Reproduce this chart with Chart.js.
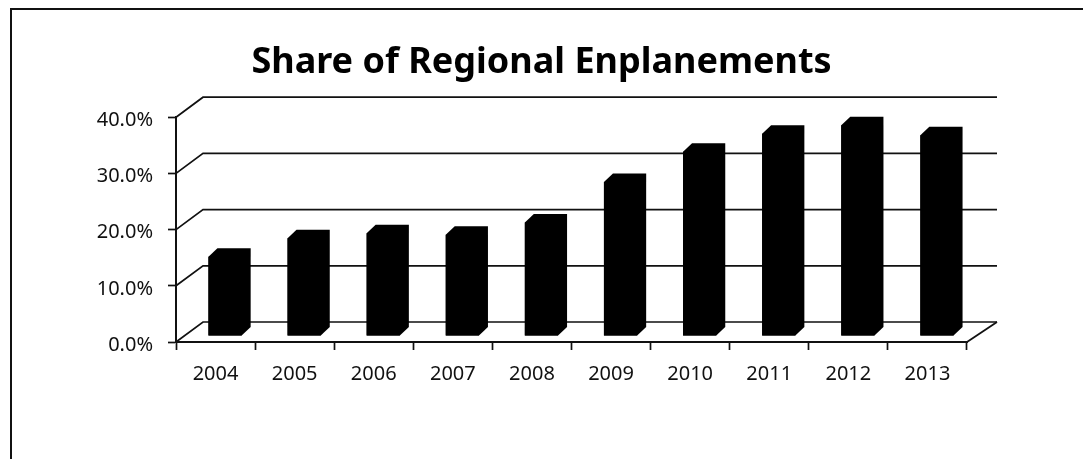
<!DOCTYPE html>
<html>
<head>
<meta charset="utf-8">
<script src="https://cdn.jsdelivr.net/npm/chart.js@4"></script>
<style>
    body { margin: 0; background: #fff; overflow: hidden; }
    #wrap { position: relative; width: 1083px; height: 459px; }
    #frame { position: absolute; left: 10px; top: 8px; right: -10px; bottom: -10px;
        border-top: 2px solid #111; border-left: 2px solid #111; pointer-events: none; }
</style>
</head>
<body>
<div id="wrap">
    <canvas id="myChart"></canvas>
    <div id="frame"></div>
</div>
<script>
const years = ['2004', '2005', '2006', '2007', '2008', '2009', '2010', '2011', '2012', '2013']
const share = [14.1, 17.4, 18.3, 18.0, 20.2, 27.4, 32.8, 36.0, 37.5, 35.7]
const yTicks = [0, 10, 20, 30, 40]

const titleText = 'Share of Regional Enplanements'
const fontName = "'Noto Sans', sans-serif"
const lineColor = '#111'

// fake 3d: back wall offset and bar offset / depth (pixels)
const wallDx = 27
const wallDxRight = 30
const wallDy = -20
const barShiftX = 9.5
const barShiftY = -6
const barDepthX = 9
const barDepthY = -8.5

const fake3d = {
    id: 'fake3d',
    beforeDatasetsDraw(chart) {
        const ctx = chart.ctx
        const y = chart.scales.y
        const left = chart.chartArea.left
        const right = chart.chartArea.right
        ctx.save()
        ctx.strokeStyle = lineColor
        ctx.lineWidth = 1.7
        // gridlines on the side + back wall
        yTicks.forEach(v => {
            let py = y.getPixelForValue(v)
            ctx.beginPath()
            ctx.moveTo(left, py)
            ctx.lineTo(left + wallDx, py + wallDy)
            ctx.lineTo(right + wallDxRight, py + wallDy)
            ctx.stroke()
        })
        // floor right edge
        let p0 = y.getPixelForValue(0)
        ctx.beginPath()
        ctx.moveTo(right, p0)
        ctx.lineTo(right + wallDxRight, p0 + wallDy)
        ctx.stroke()
        ctx.restore()

        // bars sit a bit behind the front axis
        ctx.save()
        ctx.translate(barShiftX, barShiftY)
    },
    afterDatasetsDraw(chart) {
        const ctx = chart.ctx
        const meta = chart.getDatasetMeta(0)
        ctx.fillStyle = '#000'
        meta.data.forEach(el => {
            const p = el.getProps(['x', 'y', 'base', 'width'], true)
            let x1 = p.x - p.width / 2
            let x2 = p.x + p.width / 2
            // whole silhouette so no seams show
            ctx.beginPath()
            ctx.moveTo(x1, p.base)
            ctx.lineTo(x1, p.y)
            ctx.lineTo(x1 + barDepthX, p.y + barDepthY)
            ctx.lineTo(x2 + barDepthX, p.y + barDepthY)
            ctx.lineTo(x2 + barDepthX, p.base + barDepthY)
            ctx.lineTo(x2, p.base)
            ctx.closePath()
            ctx.fill()
        })
        ctx.restore()
    }
}

const data = {
    labels: years,
    datasets: [{
        label: 'Share',
        data: share,
        backgroundColor: '#000',
        borderWidth: 0,
        barPercentage: 0.42,
        categoryPercentage: 1
    }]
}

const config = {
    type: 'bar',
    data: data,
    plugins: [fake3d],
    options: {
        responsive: true,
        maintainAspectRatio: false,
        animation: false,
        layout: {
            padding: 0
        },
        plugins: {
            legend: { display: false },
            tooltip: { enabled: false },
            title: {
                display: true,
                text: titleText,
                color: '#000',
                font: { family: fontName, size: 36, weight: 'bold', lineHeight: 1.2 },
                padding: { top: 41, bottom: 33 }
            }
        },
        scales: {
            x: {
                grid: {
                    offset: true,
                    drawOnChartArea: false,
                    tickLength: 8,
                    tickWidth: 1.7,
                    tickColor: lineColor
                },
                border: { color: lineColor, width: 2 },
                ticks: {
                    color: '#111',
                    font: { family: fontName, size: 20 },
                    padding: 12,
                    maxRotation: 0
                },
                afterFit(scale) { scale.height = 117 }
            },
            y: {
                min: 0,
                max: 40,
                grid: {
                    drawOnChartArea: false,
                    tickLength: 8,
                    tickWidth: 1.7,
                    tickColor: lineColor
                },
                border: { color: lineColor, width: 2 },
                ticks: {
                    stepSize: 10,
                    color: '#111',
                    font: { family: fontName, size: 20 },
                    padding: 15,
                    labelOffset: 3,
                    callback: v => v.toFixed(1) + '%'
                },
                afterFit(scale) { scale.width = 176 }
            },
            // empty right box, keeps the plot clear of the right edge
            yRight: {
                position: 'right',
                display: true,
                grid: { display: false },
                border: { display: false },
                ticks: { display: false },
                afterFit(scale) { scale.width = 116 }
            }
        }
    }
}

const myChart = new Chart(document.getElementById('myChart'), config)
</script>
</body>
</html>
